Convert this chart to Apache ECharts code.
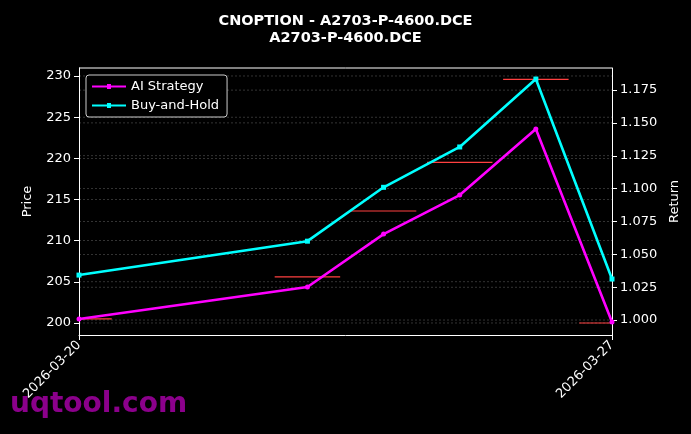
<!DOCTYPE html>
<html><head><meta charset="utf-8">
<script src="https://cdn.jsdelivr.net/npm/echarts@6/dist/echarts.min.js"></script>
<style>html,body{margin:0;background:#000;}#c{width:691px;height:434px;}</style>
</head><body><div id="c"></div>
<script>
const dates = ['2026-03-20','2026-03-23','2026-03-24','2026-03-25','2026-03-26','2026-03-27'];
const prices = [200.5, 205.6, 213.6, 219.5, 229.6, 200.0];
const aiReturn = [1.0008, 1.0251, 1.0654, 1.0951, 1.1453, 0.9985];
const bhReturn = [1.0342, 1.0600, 1.1010, 1.1317, 1.1834, 1.0312];
const priceTicks = [200, 205, 210, 215, 220, 225, 230];
const returnTicks = [1.000, 1.025, 1.050, 1.075, 1.100, 1.125, 1.150, 1.175];
const xTicks = ['2026-03-20', '2026-03-27'];

const ts = d => Date.parse(d + 'T00:00:00Z');
const DAY = 86400000;
const fmt = v => new Date(v).toISOString().slice(0, 10);
const chart = echarts.init(document.getElementById('c'));
const font = 'DejaVu Sans';
const icon = 'path://M0,3 L34,3 L34,5 L0,5 Z M15,1.5 L19,1.5 L19,6.5 L15,6.5 Z';
chart.setOption({
  backgroundColor: '#000',
  animation: false,
  textStyle: {fontFamily: font},
  title: {text: 'CNOPTION - A2703-P-4600.DCE\nA2703-P-4600.DCE', left: 'center', top: 8,
    textStyle: {color: '#fff', fontSize: 14.5, fontWeight: 'bold', fontFamily: font, lineHeight: 17}},
  graphic: [{type: 'text', left: 10, top: 391, style: {text: 'uqtool.com', fill: '#8b008b', font: 'bold 28px "DejaVu Sans"'}}],
  legend: {left: 86, top: 75, orient: 'vertical', itemGap: 6, itemWidth: 34, itemHeight: 8,
    backgroundColor: '#000', borderColor: '#ccc', borderWidth: 1, borderRadius: 3, padding: [5, 8, 5, 6],
    textStyle: {color: '#fff', fontSize: 13, fontFamily: font},
    data: [{name: 'AI Strategy', icon: icon}, {name: 'Buy-and-Hold', icon: icon}]},
  grid: {left: 79, right: 79, top: 68, bottom: 99},
  xAxis: {type: 'value', min: ts(xTicks[0]), max: ts(xTicks[1]), interval: 7 * DAY,
    axisLine: {onZero: false, lineStyle: {color: '#fff'}},
    axisTick: {show: true, length: 5, lineStyle: {color: '#fff'}},
    axisLabel: {color: '#fff', fontSize: 13, rotate: 45, formatter: v => fmt(v), margin: 8},
    splitLine: {show: false}},
  yAxis: [
    {type: 'value', min: 198.54, max: 230.97, name: 'Price', nameLocation: 'middle', nameGap: 45,
     nameTextStyle: {color: '#fff', fontSize: 13},
     axisLine: {show: true, lineStyle: {color: '#fff'}},
     axisTick: {show: true, length: 5, customValues: priceTicks, lineStyle: {color: '#fff'}},
     axisLabel: {color: '#fff', fontSize: 13, customValues: priceTicks},
     splitLine: {show: false}},
    {type: 'value', min: 0.9886, max: 1.1918, name: 'Return', nameLocation: 'middle', nameGap: 55,
     nameTextStyle: {color: '#fff', fontSize: 13},
     axisLine: {show: true, lineStyle: {color: '#fff'}},
     axisTick: {show: true, length: 5, customValues: returnTicks, lineStyle: {color: '#fff'}},
     axisLabel: {color: '#fff', fontSize: 13, customValues: returnTicks, formatter: v => v.toFixed(3)},
     splitLine: {show: false}}
  ],
  series: [
    {type: 'custom', name: 'grid', silent: true, z: 0, data: [0],
     renderItem: (p, api) => {
       const cs = p.coordSys, ch = [];
       priceTicks.forEach(v => { const y = api.coord([ts(dates[0]), v])[1];
         ch.push({type: 'line', shape: {x1: cs.x, y1: y, x2: cs.x + cs.width, y2: y}, style: {stroke: '#555', lineWidth: 0.6, lineDash: [2, 2]}}); });
       returnTicks.forEach(v => { const y = cs.y + cs.height * (1 - (v - 0.9886) / (1.1918 - 0.9886));
         ch.push({type: 'line', shape: {x1: cs.x, y1: y, x2: cs.x + cs.width, y2: y}, style: {stroke: '#555', lineWidth: 0.6, lineDash: [2, 2]}}); });
       ch.push({type: 'line', shape: {x1: cs.x, y1: cs.y, x2: cs.x + cs.width, y2: cs.y}, style: {stroke: '#fff', lineWidth: 1}});
       return {type: 'group', children: ch};
     }},
    {type: 'custom', name: 'price', silent: true, clip: true, z: 1,
     data: dates.map((d, i) => [ts(d), prices[i]]),
     renderItem: (p, api) => {
       const a = api.coord([api.value(0) - 0.43 * DAY, api.value(1)]);
       const b = api.coord([api.value(0) + 0.43 * DAY, api.value(1)]);
       return {type: 'line', shape: {x1: a[0], y1: a[1], x2: b[0], y2: b[1]}, style: {stroke: '#ff4040', lineWidth: 1.2}};
     }},
    {type: 'line', name: 'AI Strategy', yAxisIndex: 1, z: 3, data: dates.map((d, i) => [ts(d), aiReturn[i]]),
     color: '#ff00ff', lineStyle: {width: 2.6}, symbol: 'circle', symbolSize: 5, itemStyle: {color: '#ff00ff'}},
    {type: 'line', name: 'Buy-and-Hold', yAxisIndex: 1, z: 3, data: dates.map((d, i) => [ts(d), bhReturn[i]]),
     color: '#00ffff', lineStyle: {width: 2.6}, symbol: 'rect', symbolSize: 5, itemStyle: {color: '#00ffff'}}
  ]
});
</script></body></html>
